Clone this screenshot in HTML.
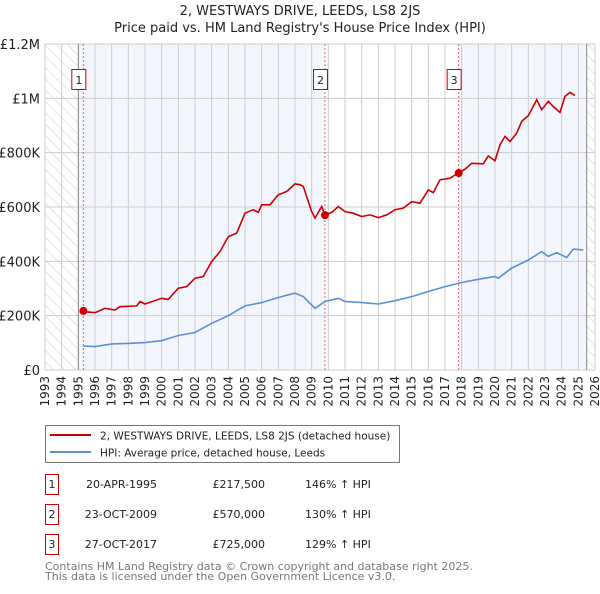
<!DOCTYPE html>
<html><head><meta charset="utf-8"><style>
body{margin:0;background:#fff;font-family:"DejaVu Sans","Liberation Sans",sans-serif;}
svg text{font-family:"DejaVu Sans","Liberation Sans",sans-serif;}
</style></head><body>
<svg id="c" width="600" height="590" xmlns="http://www.w3.org/2000/svg">
<defs><pattern id="hatch" width="8" height="8" patternUnits="userSpaceOnUse" patternTransform="rotate(-45)"><line x1="0" y1="0" x2="0" y2="8" stroke="#ccc" stroke-width="1"/></pattern></defs>
<text x="300" y="15" text-anchor="middle" font-size="13" fill="#222">2, WESTWAYS DRIVE, LEEDS, LS8 2JS</text>
<text x="300" y="32" text-anchor="middle" font-size="13" fill="#222">Price paid vs. HM Land Registry's House Price Index (HPI)</text>
<g id="plot"></g>
<g>
<rect x="45.5" y="425.5" width="354" height="37" fill="#fff" stroke="#777"/>
<line x1="50" y1="435" x2="91" y2="435" stroke="#cc0000" stroke-width="2"/>
<text x="100" y="439.5" font-size="10.5" fill="#222">2, WESTWAYS DRIVE, LEEDS, LS8 2JS (detached house)</text>
<line x1="50" y1="452" x2="91" y2="452" stroke="#5b8fd4" stroke-width="2"/>
<text x="100" y="456.5" font-size="10.5" fill="#222">HPI: Average price, detached house, Leeds</text>
</g>
<g id="table" font-size="11" fill="#222"></g>
<text x="45" y="570" font-size="11" fill="#777">Contains HM Land Registry data © Crown copyright and database right 2025.</text>
<text x="45" y="580" font-size="11" fill="#777">This data is licensed under the Open Government Licence v3.0.</text>
</svg>
<script>
const yearTicks=[1993,1994,1995,1996,1997,1998,1999,2000,2001,2002,2003,2004,2005,2006,2007,2008,2009,2010,2011,2012,2013,2014,2015,2016,2017,2018,2019,2020,2021,2022,2023,2024,2025,2026];
const valueTicks=[0,200000,400000,600000,800000,1000000,1200000];
const valueTickLabels=["£0","£200K","£400K","£600K","£800K","£1M","£1.2M"];
const propYears=[1995.3,1996,1996.6,1997.2,1997.5,1998.5,1998.7,1999,2000,2000.4,2001,2001.5,2002,2002.5,2003,2003.5,2004,2004.5,2005,2005.5,2005.8,2006,2006.5,2007,2007.5,2008,2008.3,2008.5,2009,2009.2,2009.6,2009.8,2010.2,2010.6,2011,2011.5,2012,2012.5,2013,2013.5,2014,2014.5,2015,2015.5,2016,2016.3,2016.7,2017.3,2017.8,2018.2,2018.6,2019.3,2019.6,2020,2020.3,2020.6,2020.9,2021.3,2021.6,2022,2022.5,2022.8,2023.2,2023.5,2023.9,2024.2,2024.5,2024.8];
const propValues=[215000,211000,227000,221000,233000,236000,252000,243000,264000,260000,301000,307000,338000,344000,399000,436000,491000,504000,577000,590000,580000,608000,608000,645000,657000,685000,682000,676000,583000,559000,602000,571000,580000,602000,583000,577000,565000,571000,561000,571000,590000,596000,620000,614000,663000,653000,700000,706000,725000,739000,761000,759000,788000,770000,829000,860000,841000,872000,915000,936000,995000,958000,989000,970000,948000,1007000,1022000,1010000];
const hpiYears=[1995.3,1996,1997,1998,1999,2000,2001,2002,2003,2004,2005,2006,2007,2008,2008.5,2009.2,2009.8,2010.6,2011,2012,2013,2014,2015,2016,2017,2018,2019,2020,2020.2,2021,2022,2022.8,2023.2,2023.7,2024.3,2024.7,2025.3];
const hpiValues=[88000,86000,96000,98000,101000,108000,127000,138000,172000,200000,236000,248000,267000,283000,270000,227000,252000,264000,252000,248000,243000,255000,270000,289000,307000,322000,334000,344000,338000,375000,405000,436000,418000,432000,414000,445000,442000];
const saleNums=["1","2","3"];
const saleYears=[1995.3,2009.8,2017.82];
const saleValues=[217500,570000,725000];
const saleDates=["20-APR-1995","23-OCT-2009","27-OCT-2017"];
const salePrices=["£217,500","£570,000","£725,000"];
const salePct=["146% ↑ HPI","130% ↑ HPI","129% ↑ HPI"];

const NS="http://www.w3.org/2000/svg";
const L=45,R=595,T=44,B=370,Y0=1993,Y1=2026,VMAX=1200000;
function xs(y){return L+(y-Y0)/(Y1-Y0)*(R-L);}
function ys(v){return B-v/VMAX*(B-T);}
function mk(tag,attrs,parent){const e=document.createElementNS(NS,tag);for(const k in attrs)e.setAttribute(k,attrs[k]);parent.appendChild(e);return e;}
const g=document.getElementById('plot');
const dataStart=1995.0, dataEnd=2025.5;
let r=mk('rect',{x:xs(Y0),y:T,width:xs(dataStart)-xs(Y0),height:B-T,fill:'url(#hatch)'},g);


r=mk('rect',{x:xs(dataEnd),y:T,width:xs(Y1)-xs(dataEnd),height:B-T,fill:'url(#hatch)'},g);


r=mk('rect',{x:xs(dataStart),y:T,width:xs(saleYears[1])-xs(dataStart),height:B-T,fill:'#f3f6fd'},g);


r=mk('rect',{x:xs(saleYears[2]),y:T,width:xs(dataEnd)-xs(saleYears[2]),height:B-T,fill:'#f3f6fd'},g);


yearTicks.forEach(y=>{const l=mk('line',{x1:xs(y),x2:xs(y),y1:T,y2:B,stroke:'#ccc','stroke-width':1},g);


const t=mk('text',{x:0,y:0,'font-size':12,fill:'#222','text-anchor':'end',transform:`translate(${xs(y)+4},${B+6}) rotate(-90)`},g);t.textContent=y;

});
valueTicks.forEach((v,i)=>{const l=mk('line',{x1:L,x2:R,y1:ys(v),y2:ys(v),stroke:'#ccc','stroke-width':1},g);


const t=mk('text',{x:L-5,y:ys(v)+5,'font-size':13,fill:'#222','text-anchor':'end'},g);t.textContent=valueTickLabels[i];

});
let l=mk('line',{x1:xs(dataStart),x2:xs(dataStart),y1:T,y2:B,stroke:'#888'},g);


l=mk('line',{x1:xs(dataEnd),x2:xs(dataEnd),y1:T,y2:B,stroke:'#888'},g);


saleYears.forEach((y,i)=>{const d=mk('line',{x1:xs(y),x2:xs(y),y1:T,y2:B,stroke:'#f06060','stroke-dasharray':'2,2'},g);


const bx=mk('rect',{x:xs(y)-11.5,y:69.5,width:14,height:20,fill:'#fff',stroke:'#cc0000'},g);


const t=mk('text',{x:xs(y)-4.5,y:84,'font-size':11,fill:'#222','text-anchor':'middle'},g);t.textContent=saleNums[i];

});
function pathFrom(xa,va){return xa.map((y,i)=>(i?'L':'M')+xs(y).toFixed(1)+','+ys(va[i]).toFixed(1)).join('');}
let p=mk('path',{d:pathFrom(hpiYears,hpiValues),fill:'none',stroke:'#5b8fd4','stroke-width':1.6},g);


p=mk('path',{d:pathFrom(propYears,propValues),fill:'none',stroke:'#cc0000','stroke-width':1.6},g);


saleYears.forEach((y,i)=>{const c=mk('circle',{cx:xs(y),cy:ys(saleValues[i]),r:4,fill:'#cc0000'},g);

});
const tb=document.getElementById('table');
saleNums.forEach((n,i)=>{const yy=483+i*30;
const bx=mk('rect',{x:45.5,y:yy-8.5,width:13,height:20,fill:'#fff',stroke:'#cc0000'},tb);


let t=mk('text',{x:52,y:yy+5,'text-anchor':'middle'},tb);t.textContent=n;


t=mk('text',{x:157,y:yy+5,'text-anchor':'end'},tb);t.textContent=saleDates[i];


t=mk('text',{x:265,y:yy+5,'text-anchor':'end'},tb);t.textContent=salePrices[i];


t=mk('text',{x:305,y:yy+5},tb);t.textContent=salePct[i];

});
</script>
</body></html>
